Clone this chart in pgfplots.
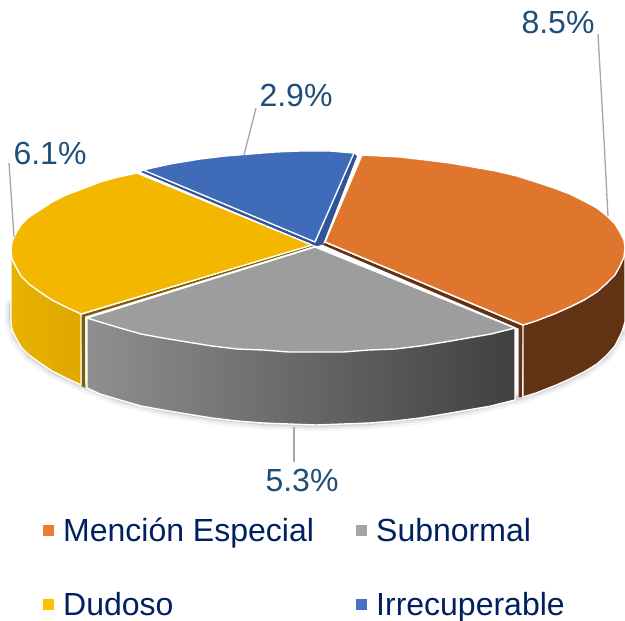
\documentclass[border=0pt]{standalone}
\usepackage{pgfplots}
\pgfplotsset{compat=1.18}
\usepackage{pgfplotstable}
\usepackage{fontspec}
\setmainfont{Liberation Sans}
\definecolor{orangetop}{RGB}{224,117,46}
\definecolor{orangewall}{RGB}{97,50,20}
\definecolor{graytop}{RGB}{157,157,157}
\definecolor{yellowtop}{RGB}{244,183,0}
\definecolor{yellowwalla}{RGB}{232,178,0}
\definecolor{yellowwallb}{RGB}{224,168,0}
\definecolor{graywalla}{RGB}{143,143,143}
\definecolor{graywallb}{RGB}{64,64,64}
\definecolor{bluetop}{RGB}{63,107,184}
\definecolor{bluewall}{RGB}{47,85,151}
\definecolor{yellowedge}{RGB}{127,96,0}
\definecolor{labelblue}{RGB}{31,78,121}
\definecolor{legendblue}{RGB}{0,32,96}
\definecolor{leader}{RGB}{166,166,166}
\definecolor{legorange}{RGB}{237,125,49}
\definecolor{leggray}{RGB}{165,165,165}
\definecolor{legyellow}{RGB}{255,192,0}
\definecolor{legblue}{RGB}{68,114,196}

\tikzset{
  slice/.style={draw=white, line width=1.4pt, line join=round},
  pct/.style={font=\fontsize{32}{36}\selectfont, text=labelblue, inner sep=0pt, anchor=base},
  leg/.style={font=\fontsize{32}{36}\selectfont, text=legendblue, inner sep=0pt, anchor=base west},
}

% lower rim of the whole pie, pixels of the reference
\pgfplotstableread{
x y
11 305
11 321
16 338
29 355
52 371
82 385
120 400
163 410
212 418
263 423
316 425
369 423
420 418
468 410
522 397
554 386
584 372
607 355
622 332
}\lowerrim

\begin{document}
\begin{tikzpicture}
\begin{axis}[
  scale only axis,
  width=625pt, height=621pt,
  xmin=0, xmax=625, ymin=0, ymax=621,
  y dir=reverse,
  hide axis,
]
  % soft shadow below the pie
  \addplot[black, opacity=0.04, line width=13pt, line join=round, line cap=round] table {\lowerrim};
  \addplot[black, opacity=0.06, line width=8pt, line join=round, line cap=round] table {\lowerrim};
  \addplot[black, opacity=0.09, line width=4pt, line join=round, line cap=round] table {\lowerrim};

  % side walls
  \addplot[fill=orangewall, draw=none] coordinates {
    (325,243) (523,326) (522,397) (518.5,397) (518.5,328.5) (322,244.5)
  } -- cycle;
  \addplot[fill=orangewall, slice] coordinates {
    (523,325) (523,397) (536,393) (554,386) (570,379) (584,372) (597,364) (607,355)
    (615,346) (622,332) (625,322) (625,248) (607,283) (584,300) (554,314)
  } -- cycle;
  \addplot[fill=yellowedge, draw=none] coordinates {
    (312,245.5) (81,315) (81.5,386) (85,387.5) (85,316.5) (314,246)
  } -- cycle;
  \addplot[left color=yellowwalla, right color=yellowwallb, slice] coordinates {
    (11,250) (11,321) (12,330) (16,338) (21,347) (29,355) (40,363) (52,371) (66,378)
    (81,385) (81,314)
  } -- cycle;
  \addplot[left color=graywalla, right color=graywallb, slice] coordinates {
    (87,318) (87,388) (100,394) (120,400) (141,406) (163,410) (187,414) (212,418) (237,421)
    (263,423) (289,424) (316,425) (343,424) (369,423) (395,421) (420,418) (445,414) (468,410)
    (491,406) (515,400) (515,328)
  } -- cycle;

  % top faces
  \addplot[fill=graytop, slice] coordinates {
    (315,247) (87,318) (100,322) (120,328) (141,334) (163,338) (187,342) (212,346) (237,349)
    (263,350) (289,352) (316,352) (343,352) (369,350) (395,349) (420,346) (445,342) (468,338)
    (491,334) (515,328)
  } -- cycle;
  \addplot[fill=bluewall, draw=none] coordinates {
    (141,172) (313,245) (318,246) (323,244) (357,156) (353,153) (145,170)
  } -- cycle;
  \addplot[fill=yellowtop, slice] coordinates {
    (312,245) (81,314) (66,307) (52,300) (40,292) (29,284) (21,276) (16,267) (12,259) (11,250)
    (12,242) (16,233) (21,225) (29,217) (40,210) (52,202) (66,195) (82,189) (100,182) (118,177)
    (137,173)
  } -- cycle;
  \addplot[fill=bluetop, slice] coordinates {
    (315,242) (143,170) (170,164) (200,159) (225,156) (250,154) (275,152) (300,151) (330,151)
    (354,153)
  } -- cycle;
  \addplot[fill=orangetop, slice] coordinates {
    (325,242) (362,155) (400,157) (426,160) (450,163) (473,167) (496,171) (517,176) (536,182)
    (554,188) (570,194) (584,201) (597,208) (607,216) (615,224) (620,232) (624,240) (625,248)
    (624,257) (620,266) (615,275) (607,283) (597,292) (584,300) (570,307) (554,314) (536,321)
    (523,325)
  } -- cycle;

  % leader lines
  \addplot[leader, line width=1.3pt] coordinates {(598,34) (604,140) (608,216)};
  \addplot[leader, line width=1.3pt] coordinates {(256,108) (244,155)};
  \addplot[leader, line width=1.3pt] coordinates {(9,163) (14,237)};
  \addplot[leader, line width=1.3pt] coordinates {(294,427) (294,462)};

  \node[pct] at (axis cs:558,33) {8.5\%};
  \node[pct] at (axis cs:296,106) {2.9\%};
  \node[pct] at (axis cs:50,164) {6.1\%};
  \node[pct] at (axis cs:302,491) {5.3\%};

  % legend
  \addplot[only marks, mark=square*, mark size=5pt, color=legorange] coordinates {(48,530)};
  \addplot[only marks, mark=square*, mark size=5pt, color=leggray] coordinates {(361,530)};
  \addplot[only marks, mark=square*, mark size=5pt, color=legyellow] coordinates {(48,604)};
  \addplot[only marks, mark=square*, mark size=5pt, color=legblue] coordinates {(361,604)};
  \node[leg] at (axis cs:63,541) {Mención Especial};
  \node[leg] at (axis cs:376,541) {Subnormal};
  \node[leg] at (axis cs:63,615) {Dudoso};
  \node[leg] at (axis cs:376,615) {Irrecuperable};
\end{axis}
\pgfresetboundingbox
\path[use as bounding box] (0,0) rectangle (625pt,621pt);
\end{tikzpicture}
\end{document}
